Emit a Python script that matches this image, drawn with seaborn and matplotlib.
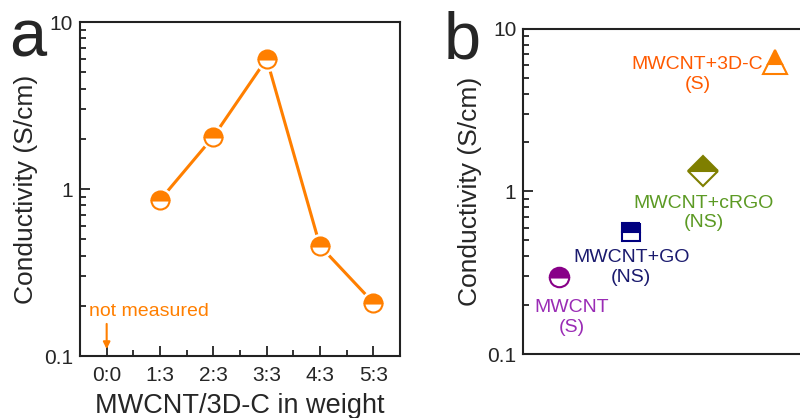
import numpy as np
import matplotlib
matplotlib.use('Agg')
import matplotlib.pyplot as plt
import seaborn as sns
from matplotlib.ticker import LogLocator, NullFormatter, FixedLocator

# Panel a data: conductivity vs MWCNT/3D-C weight ratio
ratios = ['0:0', '1:3', '2:3', '3:3', '4:3', '5:3']
cond_a = [np.nan, 0.86, 2.06, 6.03, 0.457, 0.209]

# Panel b data: comparison of composites
samples = ['MWCNT', 'MWCNT+GO', 'MWCNT+cRGO', 'MWCNT+3D-C']
notes = ['(S)', '(NS)', '(NS)', '(S)']
cond_b = [0.296, 0.567, 1.33, 6.25]

orange = '#FF7F00'
marker_b = ['o', 's', 'D', '^']
color_b = ['#880088', '#000080', '#7F7F00', '#FF7F00']
text_b = ['#9A2CB5', '#1A1A6E', '#5C9A24', '#FF5A00']
size_b = [14, 13, 15, 17]
off_b = [(9, -29), (0, -26), (0, -30), (-56, -9)]

sns.set_style('ticks')
plt.rcParams['font.family'] = ['Liberation Sans', 'DejaVu Sans']

fig = plt.figure(figsize=(8, 4.18), dpi=100)
ax1 = fig.add_axes([0.1, 0.148, 0.4, 0.799])
ax2 = fig.add_axes([0.654, 0.153, 0.4, 0.778])

# ---- panel a ----
pos = np.arange(len(ratios))
sns.lineplot(x=pos, y=cond_a, ax=ax1, color=orange, lw=2.2, zorder=2)
ax1.plot(pos, cond_a, 'o', ms=17, color='white', mec='white', zorder=3)
ax1.plot(pos, cond_a, 'o', ms=13, color=orange, fillstyle='top',
         markerfacecoloralt='white', mec=orange, mew=1.5, zorder=4)
ax1.set_yscale('log')
ax1.set_ylim(0.1, 10)
ax1.set_xlim(-0.5, 5.5)
ax1.set_xticks(pos)
ax1.set_xticklabels(ratios)
ax1.xaxis.set_minor_locator(FixedLocator(pos[:-1] + 0.5))
ax1.set_yticks([0.1, 1, 10])
ax1.set_yticklabels(['0.1', '1', '10'])
ax1.set_xlabel('MWCNT/3D-C in weight', fontsize=19.5, labelpad=6)
ax1.set_ylabel('Conductivity (S/cm)', fontsize=19, labelpad=4)
ax1.annotate('', xy=(0, 0.106), xytext=(0, 0.162),
             arrowprops=dict(arrowstyle='-|>', color=orange, lw=1.5, mutation_scale=10))
ax1.text(0.8, 0.186, 'not measured', color=orange, fontsize=14, ha='center', va='center')
fig.text(0.012, 0.905, 'a', fontsize=48, va='center', ha='left')

# ---- panel b ----
xb = np.arange(1, len(samples) + 1)
for i in range(len(samples)):
    ax2.plot(xb[i], cond_b[i], marker_b[i], ms=size_b[i], color=color_b[i],
             fillstyle='top', markerfacecoloralt='white', mec=color_b[i], mew=1.5)
    ax2.annotate(samples[i] + '\n' + notes[i], (xb[i], cond_b[i]),
                 xytext=off_b[i], textcoords='offset points', ha='center',
                 va='center', color=text_b[i], fontsize=14, linespacing=1.2)
ax2.set_yscale('log')
ax2.set_ylim(0.1, 10)
ax2.set_xlim(0.5, 4.94)
ax2.set_xticks([])
ax2.set_yticks([0.1, 1, 10])
ax2.set_yticklabels(['0.1', '1', '10'])
ax2.set_ylabel('Conductivity (S/cm)', fontsize=19, labelpad=4)
fig.text(0.555, 0.9, 'b', fontsize=48, va='center', ha='left')

for ax in (ax1, ax2):
    ax.yaxis.set_minor_locator(LogLocator(base=10, subs=np.arange(2, 10)))
    ax.yaxis.set_minor_formatter(NullFormatter())
    ax.tick_params(which='both', direction='in', labelsize=15, width=1.3, color='#222222')
    ax.tick_params(which='major', length=7)
    ax.tick_params(axis='x', which='major', pad=7)
    ax.tick_params(axis='y', which='major', pad=5)
    ax.tick_params(which='minor', length=4)
    for s in ax.spines.values():
        s.set_linewidth(1.5)
        s.set_color('#222222')

fig.savefig('out.png', dpi=100)
